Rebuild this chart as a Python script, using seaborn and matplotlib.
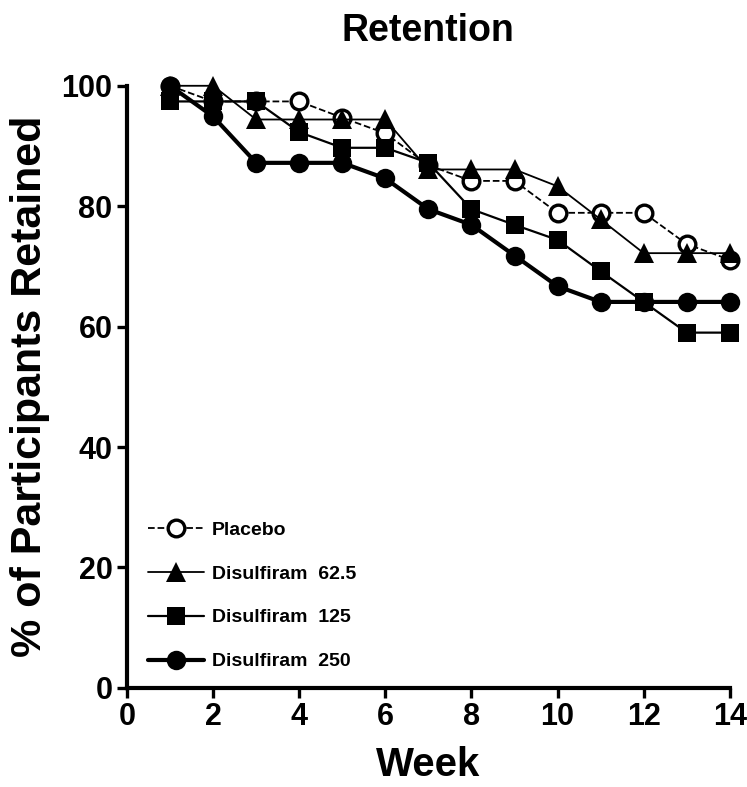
import pandas as pd
import matplotlib
matplotlib.use("Agg")
import matplotlib.pyplot as plt
import seaborn as sns

weeks = list(range(1, 15))
placebo = [100, 97.4, 97.4, 97.4, 94.7, 92.1, 86.8, 84.2, 84.2, 78.9, 78.9, 78.9, 73.7, 71.1]
disulfiram_62 = [100, 100, 94.4, 94.4, 94.4, 94.4, 86.1, 86.1, 86.1, 83.3, 77.8, 72.2, 72.2, 72.2]
disulfiram_125 = [97.4, 97.4, 97.4, 92.3, 89.7, 89.7, 87.2, 79.5, 76.9, 74.4, 69.2, 64.1, 59.0, 59.0]
disulfiram_250 = [100, 94.9, 87.2, 87.2, 87.2, 84.6, 79.5, 76.9, 71.8, 66.7, 64.1, 64.1, 64.1, 64.1]

series_names = ["Placebo", "Disulfiram  62.5", "Disulfiram  125", "Disulfiram  250"]
series_values = [placebo, disulfiram_62, disulfiram_125, disulfiram_250]

sns.set_style("ticks")
plt.rcParams['font.family'] = ['Liberation Sans', 'DejaVu Sans']
plt.rcParams['font.weight'] = 'bold'
plt.rcParams['text.color'] = 'black'
plt.rcParams['axes.labelcolor'] = 'black'
plt.rcParams['xtick.color'] = 'black'
plt.rcParams['ytick.color'] = 'black'
plt.rcParams['axes.edgecolor'] = 'black'

fig = plt.figure(figsize=(7.47, 7.87), dpi=100)
ax = fig.add_axes([0.170, 0.126, 0.807, 0.765])

styles = [
    dict(linestyle='--', linewidth=1.3, marker='o', markerfacecolor='white', markeredgecolor='black',
         markeredgewidth=2.4, markersize=12),
    dict(linestyle='-', linewidth=1.3, marker='^', markerfacecolor='black', markeredgecolor='black',
         markeredgewidth=0, markersize=14),
    dict(linestyle='-', linewidth=1.6, marker='s', markerfacecolor='black', markeredgecolor='black',
         markeredgewidth=0, markersize=13),
    dict(linestyle='-', linewidth=3.0, marker='o', markerfacecolor='black', markeredgecolor='black',
         markeredgewidth=0, markersize=14),
]
zorders = [2, 3, 4, 5]

for name, vals, st, z in zip(series_names, series_values, styles, zorders):
    df = pd.DataFrame({'Week': weeks, 'Retained': vals})
    sns.lineplot(data=df, x='Week', y='Retained', ax=ax, color='black', label=name,
                 clip_on=False, zorder=z, **st)

ax.set_xlim(0, 14)
ax.set_ylim(0, 100)
ax.set_xticks(range(0, 15, 2))
ax.set_yticks(range(0, 101, 20))
sns.despine(ax=ax)
for sp in ['left', 'bottom']:
    ax.spines[sp].set_linewidth(3)
ax.tick_params(axis='both', width=2.4, length=7.5, labelsize=22, pad=3)
for lab in ax.get_xticklabels() + ax.get_yticklabels():
    lab.set_fontweight('bold')

ax.set_xlabel('Week', fontsize=29, fontweight='bold', labelpad=10)
ax.set_ylabel('% of Participants Retained', fontsize=31, fontweight='bold', labelpad=8)
ax.set_title('Retention', fontsize=27, fontweight='bold', pad=32)

leg = ax.legend(loc='lower left', frameon=False, prop={'weight': 'bold', 'size': 14},
                handlelength=2.9, labelspacing=1.35, bbox_to_anchor=(0.005, 0.0),
                handletextpad=0.4)

fig.savefig('out.png', dpi=100)
